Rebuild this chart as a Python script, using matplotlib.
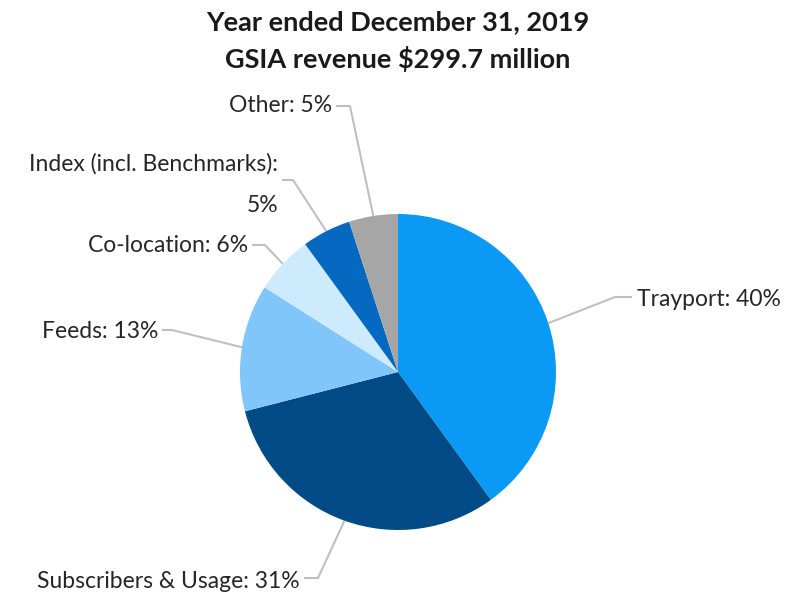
import numpy as np
import matplotlib
matplotlib.use('Agg')
from matplotlib import pyplot as plt

# data
categories = ['Trayport', 'Subscribers & Usage', 'Feeds', 'Co-location',
              'Index (incl. Benchmarks)', 'Other']
shares = [40, 31, 13, 6, 5, 5]
colors = ['#0A9AF5', '#004A85', '#80C6FA', '#CDEBFD', '#0569C1', '#A6A6A6']
title_lines = ['Year ended December 31, 2019', 'GSIA revenue $299.7 million']

W, H = 788, 593
plt.rcParams['font.family'] = ['Lato', 'DejaVu Sans']

fig = plt.figure(figsize=(W / 100, H / 100), dpi=100)
ax = fig.add_axes([0, 0, 1, 1])


def py(y):
    # pixel row (from top) -> data y
    return H - y


cx, cy, r = 398, py(372), 158
wedges, _ = ax.pie(shares, colors=colors, startangle=90, counterclock=False,
                   center=(cx, cy), radius=r, frame=True,
                   wedgeprops={'linewidth': 0})
ax.set_xlim(0, W)
ax.set_ylim(0, H)
ax.set_aspect('equal')
ax.axis('off')

# label layout: (text x, text y, ha, elbow x)
layout = [
    (637, 300, 'left', 615),
    (300, 582, 'right', 318),
    (158, 332, 'right', 172),
    (248, 245, 'right', 265),
    (278, 164, 'right', 293),
    (332, 106, 'right', 350),
]
line_rows = [297, 578, 330, 245, 180, 106]
fs = 16.5

for w, cat, pct, (tx, ty, ha, ex), ly in zip(wedges, categories, shares, layout, line_rows):
    ang = np.deg2rad((w.theta1 + w.theta2) / 2)
    wx, wy = cx + r * np.cos(ang), cy + r * np.sin(ang)
    if cat.startswith('Index'):
        ax.text(tx, py(ty), f'{cat}:', ha=ha, va='center', fontsize=fs, color='#262626')
        ax.text(tx, py(ty + 42), f'{pct}%', ha=ha, va='center', fontsize=fs, color='#262626')
        sx = tx + 4
    else:
        ax.text(tx, py(ty), f'{cat}: {pct}%', ha=ha, va='center', fontsize=fs, color='#262626')
        sx = tx - 5 if ha == 'left' else tx + 4
    ax.plot([sx, ex, wx], [py(ly), py(ly), wy], color='#C0C0C0', lw=1.5,
            solid_capstyle='butt', zorder=0)

ax.text(398, py(22), title_lines[0], ha='center', va='center', fontsize=19.5,
        fontweight='bold', color='#1a1a1a')
ax.text(398, py(59), title_lines[1], ha='center', va='center', fontsize=19.5,
        fontweight='bold', color='#1a1a1a')

fig.savefig('out.png', dpi=100)
